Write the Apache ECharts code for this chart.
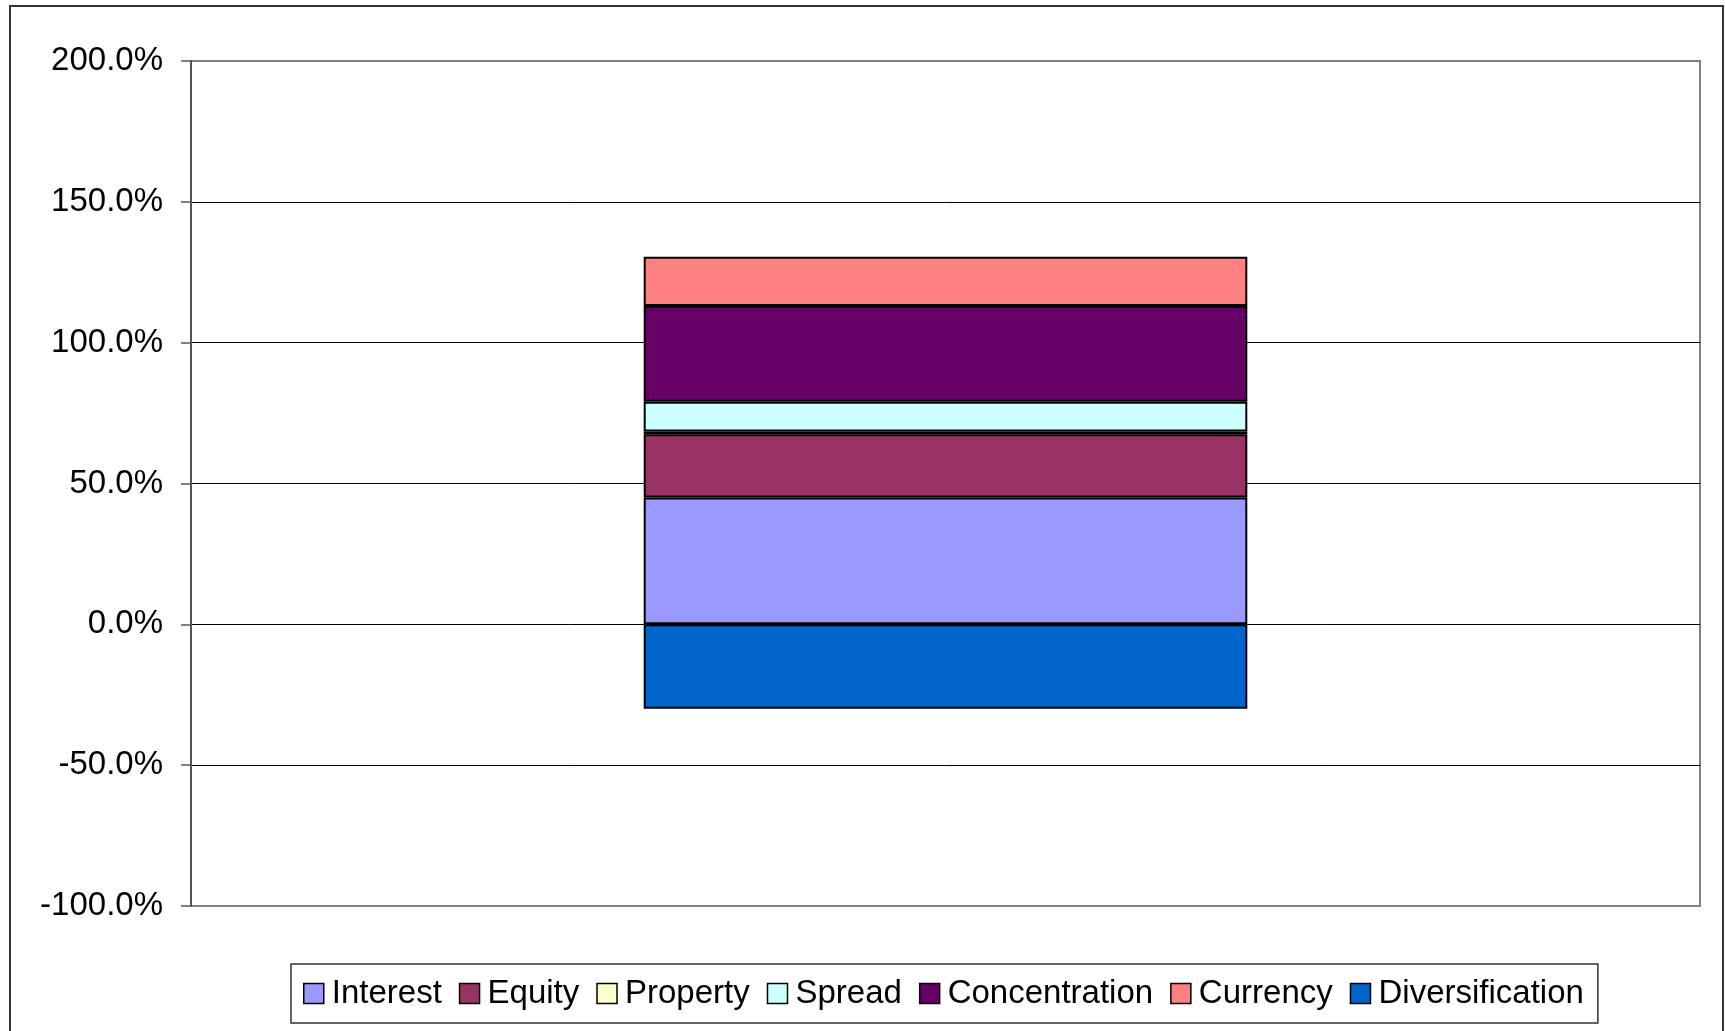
<!DOCTYPE html>
<html>
<head>
<meta charset="utf-8">
<script src="https://cdn.jsdelivr.net/npm/echarts@6/dist/echarts.min.js"></script>
<style>
  html, body { margin: 0; padding: 0; background: #fff; }
  #chart { width: 1725px; height: 1031px; }
</style>
</head>
<body>
<div id="chart"></div>
<script>
// Risk contributions as a share of the total requirement
const categories = [''];
const seriesNames = ['Interest', 'Equity', 'Property', 'Spread', 'Concentration', 'Currency', 'Diversification'];
const interest = [45.0];
const equity = [22.5];
const property = [1.0];
const spread = [10.5];
const concentration = [34.0];
const currency = [17.5];
const diversification = [-30.0];
const colors = ['#9999FF', '#993366', '#FFFFCC', '#CCFFFF', '#660066', '#FF8080', '#0066CC'];

const valuesBySeries = [interest, equity, property, spread, concentration, currency, diversification];
const FONT = "'Liberation Sans', Arial, sans-serif";

const chart = echarts.init(document.getElementById('chart'), null, { renderer: 'canvas' });

chart.setOption({
  animation: false,
  backgroundColor: '#ffffff',
  textStyle: { fontFamily: FONT },
  graphic: [{
    type: 'rect',
    shape: { x: 10, y: 6, width: 1713, height: 1100 },
    style: { fill: 'none', stroke: '#333333', lineWidth: 2 },
    silent: true,
    z: -10
  }],
  grid: {
    left: 191, right: 25, top: 61, bottom: 125,
    show: true,
    borderColor: '#808080',
    borderWidth: 2,
    backgroundColor: 'transparent'
  },
  legend: {
    data: seriesNames,
    bottom: 8,
    left: 291,
    orient: 'horizontal',
    icon: 'rect',
    itemWidth: 20,
    itemHeight: 20,
    itemGap: 17,
    padding: [13, 14, 13, 12],
    borderColor: '#333333',
    borderWidth: 1.5,
    backgroundColor: '#ffffff',
    textStyle: { fontFamily: FONT, fontSize: 33, color: '#000', padding: [0, 0, 0, 3] },
    itemStyle: { borderColor: '#000', borderWidth: 1.5 }
  },
  xAxis: {
    type: 'category',
    data: categories,
    axisLine: { show: false },
    axisTick: { show: false },
    axisLabel: { show: false },
    splitLine: { show: false }
  },
  yAxis: {
    type: 'value',
    min: -100,
    max: 200,
    interval: 50,
    axisLine: { show: true, lineStyle: { color: '#555555', width: 2 } },
    axisTick: { show: true, length: 10, lineStyle: { color: '#555555', width: 1.5 } },
    axisLabel: {
      margin: 28,
      fontFamily: FONT,
      fontSize: 33,
      color: '#000',
      formatter: v => v.toFixed(1) + '%'
    },
    splitLine: {
      show: true,
      showMinLine: false,
      showMaxLine: false,
      lineStyle: { color: '#000000', width: 1 }
    }
  },
  series: seriesNames.map((name, i) => ({
    name: name,
    type: 'bar',
    stack: 'total',
    barWidth: '40%',
    data: valuesBySeries[i],
    itemStyle: { color: colors[i], borderColor: '#000000', borderWidth: 2 },
    emphasis: { disabled: true }
  }))
});
</script>
</body>
</html>
